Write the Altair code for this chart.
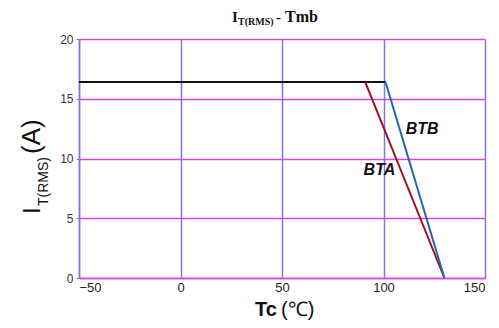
import altair as alt
import pandas as pd

# data
flat_x = [-50, 101]
flat_y = [16.4, 16.4]
bta_x = [91, 130]
bta_y = [16.4, 0]
btb_x = [101, 130]
btb_y = [16.4, 0]
label_text = ["BTB", "BTA"]
label_x = [119, 98]
label_y = [12.5, 9.0]
x_ticks = [-50, 0, 50, 100, 150]
y_ticks = [0, 5, 10, 15, 20]

rows = []
for s, xs, ys in [("flat", flat_x, flat_y), ("BTA", bta_x, bta_y), ("BTB", btb_x, btb_y)]:
    for i, (a, b) in enumerate(zip(xs, ys)):
        rows.append({"series": s, "x": a, "y": b, "order": i})
df = pd.DataFrame(rows)
lab = pd.DataFrame({"t": label_text, "x": label_x, "y": label_y})

W, H = 406, 239

xs = alt.Scale(domain=[-50, 150], nice=False)
ys = alt.Scale(domain=[0, 20], nice=False)

x_axis = alt.Axis(values=x_ticks, title=None, grid=True, gridColor="#7878e0", gridWidth=1.5,
                  gridOpacity=1, domainColor="#e040e0", domainWidth=1.5, ticks=False,
                  labelFont="Liberation Sans", labelFontSize=13, labelColor="#222",
                  labelPadding=3, labelExpr="replace(datum.label, '-', '\u2212')")
y_axis = alt.Axis(values=y_ticks, title=None, grid=True, gridColor="#e040e0", gridWidth=1.5,
                  gridOpacity=1, domainColor="#7878e0", domainWidth=1.5, ticks=True, tickSize=3,
                  tickColor="#7878e0", labelFont="Liberation Sans", labelFontSize=12,
                  labelColor="#333", labelPadding=3)

base = alt.Chart(df)

color_scale = alt.Scale(domain=["flat", "BTA", "BTB"], range=["#111111", "#a01020", "#1f66b0"])

lines = base.mark_line(strokeWidth=2).encode(
    x=alt.X("x:Q", scale=xs, axis=x_axis),
    y=alt.Y("y:Q", scale=ys, axis=y_axis),
    color=alt.Color("series:N", scale=color_scale, legend=None),
    order="order:O",
    detail="series:N",
)

labels = alt.Chart(lab).mark_text(font="Liberation Sans", fontSize=16, fontWeight="bold",
                                  fontStyle="italic", color="#111").encode(
    x=alt.X("x:Q", scale=xs), y=alt.Y("y:Q", scale=ys), text="t:N")

one = pd.DataFrame({"a": [0]})

def txt(text, x, y, size, weight="normal", font="Liberation Sans", angle=0, align="left", baseline="alphabetic", color="#111"):
    kw = dict(text=text, fontSize=size, fontWeight=weight, font=font, align=align,
              baseline=baseline, color=color)
    if angle:
        kw["angle"] = angle
    return alt.Chart(one).mark_text(**kw).encode(x=alt.value(x), y=alt.value(y))

# title: I_T(RMS) - Tmb  (plot-origin pixel coordinates)
title_parts = [
    txt("I", 153, -17, 15, "bold", "Liberation Serif"),
    txt("T(RMS)", 159, -14, 10, "bold", "Liberation Serif"),
    txt("-", 197, -17, 15, "bold", "Liberation Serif"),
    txt("Tmb", 206, -17, 16, "bold", "Liberation Serif"),
]

# y axis title: I_T(RMS)(A), rotated
ytitle = [
    txt("I", -39, 175, 24, "normal", "Liberation Sans", angle=270),
    txt("T(RMS)", -31, 167, 14, "normal", "Liberation Sans", angle=270),
    txt("(A)", -39, 115, 26, "normal", "Liberation Sans", angle=270),
]

# x axis title: Tc (℃)
xtitle = [
    txt("Tc", 176, 277, 20, "bold", "Liberation Sans"),
    txt("(\u2103)", 202, 277, 20, "normal", "Liberation Sans"),
]

chart = alt.layer(lines, labels, *title_parts, *ytitle, *xtitle).properties(
    width=W, height=H,
    autosize=alt.AutoSizeParams(type="none"),
    padding={"left": 71, "top": 31, "right": 6, "bottom": 42},
).configure_view(stroke=None)

chart.save("out.html", embed_options={"renderer": "svg", "actions": False})
